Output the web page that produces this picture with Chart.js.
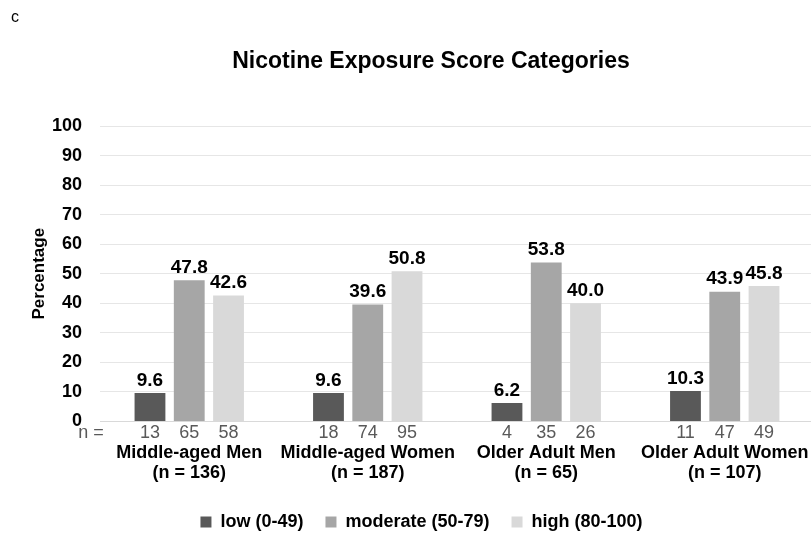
<!DOCTYPE html>
<html>
<head>
<meta charset="utf-8">
<script src="https://cdn.jsdelivr.net/npm/chart.js@4.4.1/dist/chart.umd.min.js"></script>
<style>
  html, body { margin: 0; padding: 0; background: #fff; overflow: hidden; }
  #wrap { width: 814px; height: 537px; }
</style>
</head>
<body>
<div id="wrap"><canvas id="chart"></canvas></div>
<script>
// categories (two-line labels)
const groups = [
    ['Middle-aged Men', '(n = 136)'],
    ['Middle-aged Women', '(n = 187)'],
    ['Older Adult Men', '(n = 65)'],
    ['Older Adult Women', '(n = 107)']
];
const seriesNames = ['low (0-49)', 'moderate (50-79)', 'high (80-100)'];

// percentages per exposure category
const lowPct = [9.6, 9.6, 6.2, 10.3];
const moderatePct = [47.8, 39.6, 53.8, 43.9];
const highPct = [42.6, 50.8, 40.0, 45.8];

// counts shown under each bar
const lowN = [13, 18, 4, 11];
const moderateN = [65, 74, 35, 47];
const highN = [58, 95, 26, 49];

const yMin = 0, yMax = 100, yStep = 10;

const FONT = '"Liberation Sans", Arial, sans-serif';
const colors = ['#595959', '#a6a6a6', '#d9d9d9'];
const counts = [lowN, moderateN, highN];

// bold value labels above bars
const valueLabels = {
    id: 'valueLabels',
    afterDatasetsDraw(chart) {
        const ctx = chart.ctx;
        ctx.save();
        ctx.font = 'bold 19px ' + FONT;
        ctx.fillStyle = '#000';
        ctx.textAlign = 'center';
        ctx.textBaseline = 'bottom';
        chart.data.datasets.forEach((ds, i) => {
            chart.getDatasetMeta(i).data.forEach((bar, j) => {
                ctx.fillText(ds.data[j].toFixed(1), bar.x, bar.y - 3);
            });
        });
        ctx.restore();
    }
};

// n counts row just under the axis
const countRow = {
    id: 'countRow',
    afterDraw(chart) {
        const ctx = chart.ctx;
        const y = chart.chartArea.bottom + 12;
        ctx.save();
        ctx.font = '18px ' + FONT;
        ctx.fillStyle = '#595959';
        ctx.textBaseline = 'middle';
        ctx.textAlign = 'center';
        counts.forEach((arr, i) => {
            chart.getDatasetMeta(i).data.forEach((bar, j) => {
                ctx.fillText(String(arr[j]), bar.x, y);
            });
        });
        const first = chart.getDatasetMeta(0).data[0];
        ctx.textAlign = 'right';
        ctx.fillText('n =', first.x - first.width * 1.5, y);
        ctx.restore();
    }
};

// panel letter and title
const header = {
    id: 'header',
    afterDraw(chart) {
        const ctx = chart.ctx;
        ctx.save();
        ctx.fillStyle = '#000';
        ctx.textBaseline = 'middle';
        ctx.font = '16px ' + FONT;
        ctx.textAlign = 'left';
        ctx.fillText('c', 11, 18);
        ctx.font = 'bold 23px ' + FONT;
        ctx.textAlign = 'center';
        ctx.fillText('Nicotine Exposure Score Categories', 431, 62);
        ctx.restore();
    }
};

new Chart(document.getElementById('chart'), {
    type: 'bar',
    data: {
        labels: groups,
        datasets: [
            { label: seriesNames[0], data: lowPct, backgroundColor: colors[0] },
            { label: seriesNames[1], data: moderatePct, backgroundColor: colors[1] },
            { label: seriesNames[2], data: highPct, backgroundColor: colors[2] }
        ]
    },
    options: {
        responsive: true,
        maintainAspectRatio: false,
        animation: false,
        layout: { padding: { top: 126, left: 29, right: 0, bottom: -4 } },
        datasets: {
            bar: { categoryPercentage: 0.66, barPercentage: 0.785 }
        },
        scales: {
            x: {
                grid: { display: false, drawTicks: false },
                border: { display: true, color: '#d9d9d9' },
                ticks: {
                    autoSkip: false,
                    color: '#000',
                    padding: 22,
                    maxRotation: 0,
                    font: { family: FONT, size: 18, weight: 'bold', lineHeight: 1.1 }
                },
                afterFit(scale) {
                    scale.paddingLeft = 0;
                    scale.paddingRight = 0;
                    scale.height -= 14;
                }
            },
            y: {
                min: yMin,
                max: yMax,
                border: { display: false },
                grid: { color: '#e6e6e6', drawTicks: false },
                ticks: {
                    stepSize: yStep,
                    color: '#000',
                    padding: 18,
                    font: { family: FONT, size: 18, weight: 'bold' }
                },
                title: {
                    display: true,
                    text: 'Percentage',
                    color: '#000',
                    padding: { top: 0, bottom: 4 },
                    font: { family: FONT, size: 17, weight: 'bold' }
                },
                afterFit(scale) {
                    scale.width = 71;
                }
            }
        },
        plugins: {
            legend: {
                position: 'bottom',
                labels: {
                    boxWidth: 11,
                    boxHeight: 11,
                    padding: 22,
                    color: '#000',
                    font: { family: FONT, size: 18, weight: 'bold' }
                }
            },
            tooltip: { enabled: false }
        }
    },
    plugins: [valueLabels, countRow, header]
});
</script>
</body>
</html>
